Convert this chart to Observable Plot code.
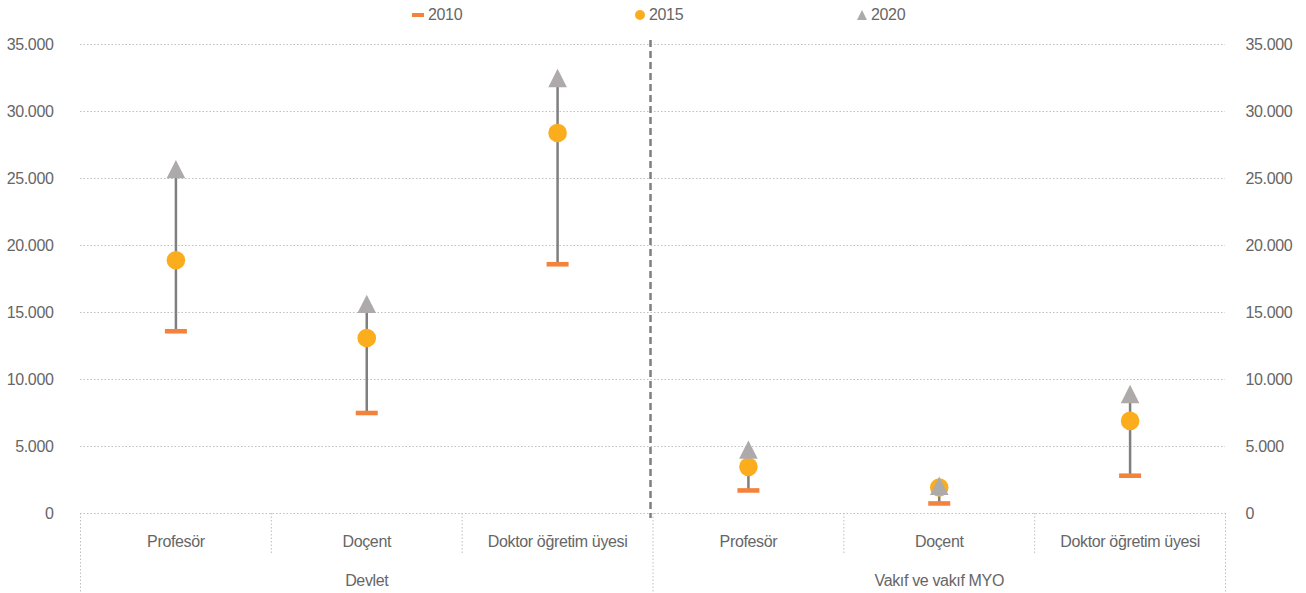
<!DOCTYPE html>
<html><head><meta charset="utf-8">
<script src="https://cdn.jsdelivr.net/npm/d3@7"></script>
<script src="https://cdn.jsdelivr.net/npm/@observablehq/plot@0.6"></script>
<style>
body{margin:0;background:#fff;font-family:"Liberation Sans",Arial,sans-serif;}
#legend{position:relative;height:30px;font-size:16px;color:#666;letter-spacing:-0.35px;}
.item{position:absolute;top:0;height:30px;display:flex;align-items:center;gap:4px;}
svg text{letter-spacing:-0.35px;}
</style></head><body>
<div id="legend"></div>
<div id="chart"></div>
<script>
const groups = ["Devlet", "Vakıf ve vakıf MYO"];
const titles = ["Profesör", "Doçent", "Doktor öğretim üyesi"];
const years = ["2010", "2015", "2020"];
const v2010 = [13600, 7500, 18600, 1720, 750, 2820];
const v2015 = [18900, 13100, 28400, 3480, 1940, 6910];
const v2020 = [25700, 15640, 32500, 4770, 2070, 8920];
const yTicks = [0, 5000, 10000, 15000, 20000, 25000, 30000, 35000];
const colors = {"2010": "#f4823a", "2015": "#fbad1d", "2020": "#aeaaaa"};
const lineColor = "#7f7f7f";
const textColor = "#666666";
const gridColor = "#bfbfbf";

const rows = [];
groups.forEach((g, gi) => titles.forEach((t, ti) => {
  const i = gi * titles.length + ti;
  rows.push({x: i + 0.5, group: g, title: t, a: v2010[i], b: v2015[i], c: v2020[i]});
}));
const nCat = rows.length;
const fmt = d3.formatLocale({decimal: ",", thousands: ".", grouping: [3], currency: ["", ""]}).format(",d");

// legend
const legend = document.getElementById("legend");
const lefts = [412, 635, 857];
const swatches = [
  `<span style="display:inline-block;width:12px;height:4px;background:${colors["2010"]}"></span>`,
  `<span style="display:inline-block;width:10px;height:10px;border-radius:50%;background:${colors["2015"]}"></span>`,
  `<svg width="10" height="10"><path d="M5,0L10,10L0,10Z" fill="${colors["2020"]}"/></svg>`
];
years.forEach((y, k) => {
  const el = document.createElement("div");
  el.className = "item";
  el.style.left = lefts[k] + "px";
  el.innerHTML = swatches[k] + `<span>${y}</span>`;
  legend.appendChild(el);
});

const dashSymbol = {draw(ctx) { ctx.rect(-11, -2.3, 22, 4.6); }};
const triSymbol = {draw(ctx) { ctx.moveTo(0, -9.2); ctx.lineTo(9.3, 9.2); ctx.lineTo(-9.3, 9.2); ctx.closePath(); }};

const groupBounds = groups.map((g, gi) => gi * titles.length).concat([nCat]);
const subBounds = d3.range(1, nCat).filter(b => b % titles.length !== 0);

const chart = Plot.plot({
  width: 1306,
  height: 563,
  marginTop: 14,
  marginBottom: 80,
  marginLeft: 80,
  marginRight: 81,
  style: {fontFamily: '"Liberation Sans", Arial, sans-serif', fontSize: "16px", color: textColor, background: "#fff"},
  x: {type: "linear", domain: [0, nCat], axis: null},
  y: {domain: [0, 35000], axis: null},
  marks: [
    Plot.gridY(yTicks, {stroke: gridColor, strokeOpacity: 1, strokeDasharray: "1.5,2"}),
    Plot.axisY(yTicks, {anchor: "left", tickSize: 0, tickPadding: 27, tickFormat: fmt, label: null}),
    Plot.axisY(yTicks, {anchor: "right", tickSize: 0, tickPadding: 20, tickFormat: fmt, label: null}),
    Plot.axisX(subBounds, {anchor: "bottom", tickSize: 40, tickFormat: () => "", stroke: gridColor, strokeOpacity: 1, strokeDasharray: "1.5,2", label: null}),
    Plot.axisX(groupBounds, {anchor: "bottom", tickSize: 80, tickFormat: () => "", stroke: gridColor, strokeOpacity: 1, strokeDasharray: "1.5,2", label: null}),
    Plot.axisX(rows.map(d => d.x), {anchor: "bottom", tickSize: 0, tickPadding: 22.3, tickFormat: d => titles[Math.floor(d) % titles.length], label: null}),
    Plot.axisX(groups.map((g, gi) => gi * titles.length + titles.length / 2), {anchor: "bottom", tickSize: 0, tickPadding: 61.3, tickFormat: d => groups[Math.floor(d / titles.length)], label: null}),
    Plot.ruleX([titles.length], {stroke: lineColor, strokeWidth: 2.5, strokeDasharray: "7,4", insetTop: -4, insetBottom: -5, dx: -2.5}),
    Plot.ruleX(rows, {x: "x", y1: "a", y2: "c", stroke: lineColor, strokeWidth: 2.5}),
    Plot.dot(rows, {x: "x", y: "a", symbol: dashSymbol, fill: colors["2010"], r: 5}),
    Plot.dot(rows, {x: "x", y: "b", r: 9.3, fill: colors["2015"]}),
    Plot.dot(rows, {x: "x", y: "c", symbol: triSymbol, fill: colors["2020"], r: 5})
  ]
});
document.getElementById("chart").appendChild(chart);
</script>
</body></html>
